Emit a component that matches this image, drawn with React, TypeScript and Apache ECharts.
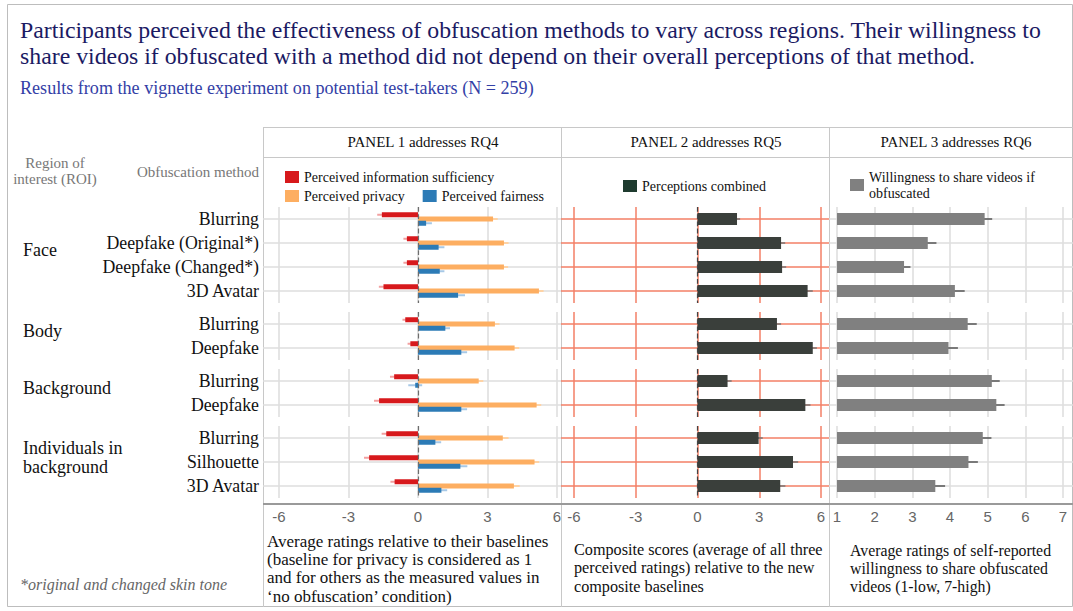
import React, { useEffect, useRef } from 'react';
import * as echarts from 'echarts';

// ---------- data ----------
const regions = ['Face', 'Body', 'Background', 'Individuals in\nbackground'];
const faceMethods = ['Blurring', 'Deepfake (Original*)', 'Deepfake (Changed*)', '3D Avatar'];
const bodyMethods = ['Blurring', 'Deepfake'];
const backgroundMethods = ['Blurring', 'Deepfake'];
const individualsMethods = ['Blurring', 'Silhouette', '3D Avatar'];
const methodsByRegion = [faceMethods, bodyMethods, backgroundMethods, individualsMethods];

// Panel 1: ratings relative to baselines (rows in order: Face x4, Body x2, Background x2, Individuals x3)
const infoSufficiency = [-1.56, -0.48, -0.48, -1.49, -0.55, -0.33, -1.03, -1.68, -1.37, -2.11, -1.01];
const infoSufficiencyErr = [0.2, 0.15, 0.15, 0.2, 0.12, 0.12, 0.18, 0.22, 0.2, 0.22, 0.18];
const privacy = [3.24, 3.71, 3.71, 5.22, 3.32, 4.17, 2.62, 5.12, 3.66, 5.03, 4.14];
const privacyErr = [0.2, 0.2, 0.18, 0.2, 0.2, 0.2, 0.2, 0.2, 0.25, 0.2, 0.25];
const fairness = [0.35, 0.89, 0.94, 1.73, 1.18, 1.87, -0.12, 1.87, 0.75, 1.83, 1.01];
const fairnessErr = [0.25, 0.25, 0.2, 0.3, 0.2, 0.25, 0.3, 0.25, 0.25, 0.3, 0.25];

// Panel 2: composite scores
const combined = [1.92, 4.06, 4.11, 5.35, 3.86, 5.6, 1.46, 5.24, 2.97, 4.64, 4.02];
const combinedErr = [0.15, 0.2, 0.2, 0.25, 0.2, 0.2, 0.2, 0.25, 0.2, 0.25, 0.25];

// Panel 3: willingness to share (1-7)
const willingness = [4.92, 3.41, 2.78, 4.13, 4.47, 3.96, 5.11, 5.23, 4.87, 4.49, 3.61];
const willingnessErr = [0.2, 0.23, 0.17, 0.26, 0.24, 0.25, 0.21, 0.22, 0.23, 0.25, 0.26];

const relativeTicks = { min: -6, max: 6, interval: 3 };
const willingnessTicks = { min: 1, max: 7, interval: 1 };

const seriesNames = {
  info: 'Perceived information sufficiency',
  privacy: 'Perceived privacy',
  fairness: 'Perceived fairness',
  combined: 'Perceptions combined',
  willingness: 'Willingness to share videos if obfuscated',
};

const titleText =
  'Participants perceived the effectiveness of obfuscation methods to vary across regions. Their willingness to\nshare videos if obfuscated with a method did not depend on their overall perceptions of that method.';
const subtitleText = 'Results from the vignette experiment on potential test-takers (N = 259)';
const panelHeaders = ['PANEL 1 addresses RQ4', 'PANEL 2 addresses RQ5', 'PANEL 3 addresses RQ6'];
const panelCaptions = [
  "Average ratings relative to their baselines\n(baseline for privacy is considered as 1\nand for others as the measured values in\n\u2018no obfuscation\u2019 condition)",
  'Composite scores (average of all three\nperceived ratings) relative to the new\ncomposite baselines',
  'Average ratings of self-reported\nwillingness to share obfuscated\nvideos (1-low, 7-high)',
];
const footnote = '*original and changed skin tone';

// ---------- style / layout ----------
const W = 1073;
const H = 611;
const SERIF = '"Liberation Serif", "Times New Roman", serif';
const SANS = '"Liberation Sans", Arial, sans-serif';
const RED = '#d7191c';
const ORANGE = '#fdae61';
const BLUE = '#2c7bb6';
const DARK = '#3a3f3b';
const GREY = '#808080';
const ROW_H = 24;
const GROUP_GAP = 9;
const FIRST_TOP = 207;
const AXIS_Y = 504;

const panels = [
  { left: 279, right: W - 557, lineStart: 263, lineEnd: 561, rowLine: '#dedede', split: '#dcdcdc' },
  { left: 574, right: W - 821, lineStart: 561, lineEnd: 829, rowLine: '#f37f66', split: '#f37f66' },
  { left: 837, right: W - 1063, lineStart: 829, lineEnd: 1073, rowLine: '#dedede', split: '#dcdcdc' },
];

function errSeries(name: string, idx: number, vals: number[], errs: number[], offset: number, color: string, width: number) {
  return {
    type: 'custom',
    name,
    xAxisIndex: idx,
    yAxisIndex: idx,
    z: 1,
    silent: true,
    data: vals.map((v, i) => [v, i, errs[i]]),
    encode: { x: 0, y: 1 },
    renderItem: (params: any, api: any) => {
      const v = api.value(0) as number;
      const c = api.value(1);
      const e = api.value(2) as number;
      const a = api.coord([v - e, c]);
      const b = api.coord([v + e, c]);
      return {
        type: 'line',
        shape: { x1: a[0], y1: a[1] + offset, x2: b[0], y2: b[1] + offset },
        style: { stroke: color, lineWidth: width },
      };
    },
  };
}

function buildOption() {
  const grid: any[] = [];
  const xAxis: any[] = [];
  const yAxis: any[] = [];
  const series: any[] = [];
  const graphic: any[] = [];

  let top = FIRST_TOP;
  let start = 0;
  const lastG = methodsByRegion.length - 1;

  methodsByRegion.forEach((methods, g) => {
    const n = methods.length;
    const h = n * ROW_H;
    const isLast = g === lastG;
    const sl = (arr: number[]) => arr.slice(start, start + n);

    panels.forEach((p, pi) => {
      const idx = g * 3 + pi;
      const ticks = pi === 2 ? willingnessTicks : relativeTicks;
      grid.push({ left: p.left, right: p.right, top, height: h, containLabel: false });
      xAxis.push({
        type: 'value',
        gridIndex: idx,
        min: ticks.min,
        max: ticks.max,
        interval: ticks.interval,
        axisLine: { show: false },
        axisTick: { show: false },
        axisLabel: {
          show: isLast,
          margin: 11,
          fontFamily: SANS,
          fontSize: 15,
          color: '#666',
          showMinLabel: true,
          showMaxLabel: true,
        },
        splitLine: { show: true, lineStyle: { color: p.split, width: 1.5 } },
      });
      yAxis.push({
        type: 'category',
        gridIndex: idx,
        data: methods,
        inverse: true,
        position: 'left',
        offset: p.left - p.lineStart,
        axisLine: { show: false, onZero: false },
        axisTick: {
          show: true,
          inside: true,
          alignWithLabel: true,
          interval: 0,
          length: p.lineEnd - p.lineStart,
          lineStyle: { color: p.rowLine, width: 1.5 },
        },
        axisLabel: {
          show: pi === 0,
          interval: 0,
          margin: 4,
          fontFamily: SERIF,
          fontSize: 17.8,
          color: '#111',
        },
        splitLine: { show: false },
      });
    });

    const i1 = g * 3;
    const i2 = g * 3 + 1;
    const i3 = g * 3 + 2;
    const zeroLine = (color: string) => ({
      silent: true,
      symbol: 'none',
      label: { show: false },
      lineStyle: { type: 'dashed', color, width: 1.2 },
      data: [{ xAxis: 0 }],
    });

    series.push({
      type: 'bar', name: seriesNames.info, xAxisIndex: i1, yAxisIndex: i1, z: 2,
      barWidth: 5, barGap: '-15%', itemStyle: { color: RED }, data: sl(infoSufficiency),
      markLine: zeroLine('#6d6d6d'),
    });
    series.push({
      type: 'bar', name: seriesNames.privacy, xAxisIndex: i1, yAxisIndex: i1, z: 2,
      barWidth: 5, barGap: '-15%', itemStyle: { color: ORANGE }, data: sl(privacy),
    });
    series.push({
      type: 'bar', name: seriesNames.fairness, xAxisIndex: i1, yAxisIndex: i1, z: 2,
      barWidth: 5, barGap: '-15%', itemStyle: { color: BLUE }, data: sl(fairness),
    });
    series.push(errSeries('e-info-' + g, i1, sl(infoSufficiency), sl(infoSufficiencyErr), -4.25, '#f2a0a0', 2));
    series.push(errSeries('e-priv-' + g, i1, sl(privacy), sl(privacyErr), 0, '#fed3a6', 2));
    series.push(errSeries('e-fair-' + g, i1, sl(fairness), sl(fairnessErr), 4.25, '#a7c8e6', 2));

    series.push({
      type: 'bar', name: seriesNames.combined, xAxisIndex: i2, yAxisIndex: i2, z: 2,
      barWidth: 12, itemStyle: { color: DARK }, data: sl(combined),
      markLine: zeroLine('#444'),
    });
    series.push(errSeries('e-comb-' + g, i2, sl(combined), sl(combinedErr), 0, '#777', 1.5));

    series.push({
      type: 'bar', name: seriesNames.willingness, xAxisIndex: i3, yAxisIndex: i3, z: 2,
      barWidth: 12, itemStyle: { color: GREY }, data: sl(willingness),
    });
    series.push(errSeries('e-will-' + g, i3, sl(willingness), sl(willingnessErr), 0, '#555', 1.5));

    // region label
    graphic.push({
      type: 'text', x: 23, y: top + h / 2 - 5,
      style: {
        text: regions[g], fontFamily: SERIF, fontSize: 18, fill: '#111',
        align: 'left', verticalAlign: 'middle', lineHeight: 19,
      },
    });

    top += h + GROUP_GAP;
    start += n;
  });

  // frame and table lines
  const line = (x1: number, y1: number, x2: number, y2: number, stroke: string, lw: number) => ({
    type: 'line', z: -1, silent: true,
    shape: { x1, y1, x2, y2 },
    style: { stroke, lineWidth: lw },
  });
  graphic.push({
    type: 'rect', z: -1, silent: true,
    shape: { x: 7.5, y: 4.5, width: 1065, height: 602 },
    style: { fill: 'none', stroke: '#bdbdbd', lineWidth: 1 },
  });
  graphic.push(line(263, 127.5, 1073, 127.5, '#c8c8c8', 1));
  graphic.push(line(263, 157.5, 1073, 157.5, '#c8c8c8', 1));
  graphic.push(line(263.5, 127, 263.5, 607, '#c8c8c8', 1));
  graphic.push(line(561.5, 127, 561.5, 607, '#c8c8c8', 1));
  graphic.push(line(829.5, 127, 829.5, 607, '#c8c8c8', 1));
  graphic.push(line(263, AXIS_Y, 1073, AXIS_Y, '#9a9a9a', 2));

  // titles
  graphic.push({
    type: 'text', x: 20, y: 17,
    style: { text: titleText, fontFamily: SERIF, fontSize: 23.8, lineHeight: 26, fill: '#1b1a63', verticalAlign: 'top' },
  });
  graphic.push({
    type: 'text', x: 20, y: 88,
    style: { text: subtitleText, fontFamily: SERIF, fontSize: 18.1, fill: '#3340a6', verticalAlign: 'middle' },
  });

  // panel headers
  const headerX = [423, 706, 956];
  panelHeaders.forEach((t, i) => {
    graphic.push({
      type: 'text', x: headerX[i], y: 142,
      style: { text: t, fontFamily: SERIF, fontSize: 15, fill: '#111', align: 'center', verticalAlign: 'middle' },
    });
  });

  // left column headers
  graphic.push({
    type: 'text', x: 55, y: 171,
    style: { text: 'Region of\ninterest (ROI)', fontFamily: SERIF, fontSize: 15, lineHeight: 16, fill: '#777', align: 'center', verticalAlign: 'middle' },
  });
  graphic.push({
    type: 'text', x: 259, y: 172,
    style: { text: 'Obfuscation method', fontFamily: SERIF, fontSize: 15, fill: '#777', align: 'right', verticalAlign: 'middle' },
  });

  // captions
  const capX = [267, 574, 850];
  const capY = [532, 541, 541];
  const capSize = [17, 16.2, 15.8];
  panelCaptions.forEach((t, i) => {
    graphic.push({
      type: 'text', x: capX[i], y: capY[i],
      style: { text: t, fontFamily: SERIF, fontSize: capSize[i], lineHeight: 18.3, fill: '#111', verticalAlign: 'top' },
    });
  });
  graphic.push({
    type: 'text', x: 20, y: 584,
    style: { text: footnote, fontFamily: SERIF, fontSize: 16, fontStyle: 'italic', fill: '#666', verticalAlign: 'middle' },
  });

  const legendText = { fontFamily: SERIF, fontSize: 14, color: '#111', lineHeight: 16 };
  const legend = [
    {
      data: [seriesNames.info], left: 285, top: 169, padding: 0, icon: 'rect',
      itemWidth: 14, itemHeight: 12, textStyle: legendText, selectedMode: false,
    },
    {
      data: [seriesNames.privacy, seriesNames.fairness], left: 285, top: 188, padding: 0, icon: 'rect',
      itemWidth: 14, itemHeight: 12, itemGap: 18, textStyle: legendText, selectedMode: false,
    },
    {
      data: [{ name: seriesNames.combined, itemStyle: { color: '#1e3b2f' } }], left: 623, top: 178, padding: 0, icon: 'rect',
      itemWidth: 14, itemHeight: 12, textStyle: legendText, selectedMode: false,
    },
    {
      data: [seriesNames.willingness], left: 850, top: 169, padding: 0, icon: 'rect',
      itemWidth: 14, itemHeight: 12, textStyle: legendText, selectedMode: false,
      formatter: () => 'Willingness to share videos if\nobfuscated',
    },
  ];

  return {
    animation: false,
    backgroundColor: '#fff',
    grid,
    xAxis,
    yAxis,
    series,
    legend,
    graphic,
  };
}

export default function App() {
  const ref = useRef<HTMLDivElement>(null);
  useEffect(() => {
    if (!ref.current) return;
    const chart = echarts.init(ref.current, undefined, { renderer: 'svg' });
    chart.setOption(buildOption() as any);
    return () => chart.dispose();
  }, []);
  return <div ref={ref} style={{ position: 'absolute', left: 0, top: 0, width: W, height: H }} />;
}
